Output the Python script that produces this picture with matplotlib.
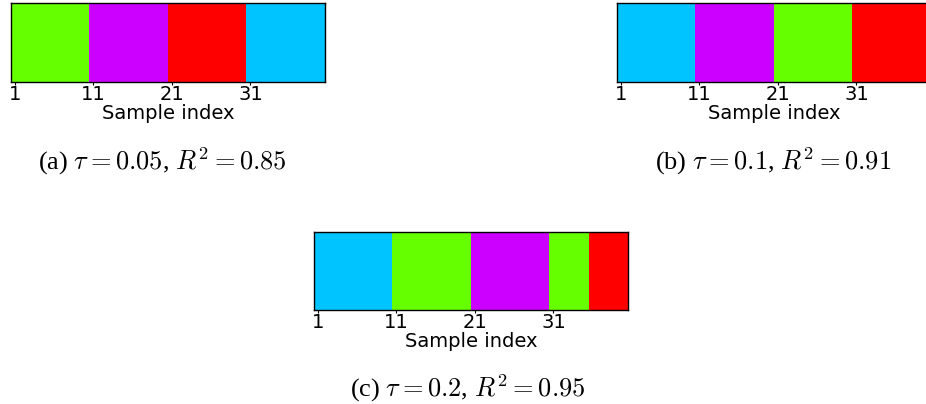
import numpy as np
import matplotlib
matplotlib.use("Agg")
import matplotlib.pyplot as plt
from matplotlib.colors import ListedColormap

# cluster colours
green = "#66FF00"
purple = "#CC00FF"
red = "#FF0000"
blue = "#00C4FF"

# each panel: run lengths of consecutive samples and the colour of each run
runs_a = [10, 10, 10, 10]
colors_a = [green, purple, red, blue]
runs_b = [10, 10, 10, 10]
colors_b = [blue, purple, green, red]
runs_c = [10, 10, 10, 5, 5]
colors_c = [blue, green, purple, green, red]

tick_pos = [0, 10, 20, 30]
tick_labels = ["1", "11", "21", "31"]

captions = [
    r"(a) $\tau = 0.05$, $R^2 = 0.85$",
    r"(b) $\tau = 0.1$, $R^2 = 0.91$",
    r"(c) $\tau = 0.2$, $R^2 = 0.95$",
]

plt.rcParams["mathtext.fontset"] = "cm"

fig = plt.figure(figsize=(9.26, 4.04), dpi=100)
boxes = [
    [11 / 926, 1 - 82 / 404, 314 / 926, 79 / 404],
    [617 / 926, 1 - 82 / 404, 314 / 926, 79 / 404],
    [314 / 926, 1 - 310 / 404, 314 / 926, 78 / 404],
]
# caption centre x and baseline y, in pixels from top-left
cap_px = [(162, 170), (773, 170), (468, 397)]


def strip(ax, runs, cols):
    lab = np.repeat(np.arange(len(runs)), runs)
    cmap = ListedColormap(cols)
    ax.imshow(lab[None, :], cmap=cmap, aspect="auto", interpolation="nearest",
              vmin=-0.5, vmax=len(runs) - 0.5)
    ax.set_yticks([])
    ax.set_xticks(tick_pos)
    ax.set_xticklabels(tick_labels, fontsize=14)
    ax.tick_params(axis="x", length=2, pad=0)
    ax.set_xlabel("Sample index", fontsize=14, labelpad=0)
    for s in ax.spines.values():
        s.set_linewidth(1.0)


for box, runs, cols, cap, (cx, cy) in zip(boxes, [runs_a, runs_b, runs_c],
                                          [colors_a, colors_b, colors_c], captions, cap_px):
    ax = fig.add_axes(box)
    strip(ax, runs, cols)
    fig.text(cx / 926, 1 - cy / 404, cap, ha="center", va="baseline", fontsize=19,
             family="Liberation Serif")

fig.savefig("out.png", dpi=100)
